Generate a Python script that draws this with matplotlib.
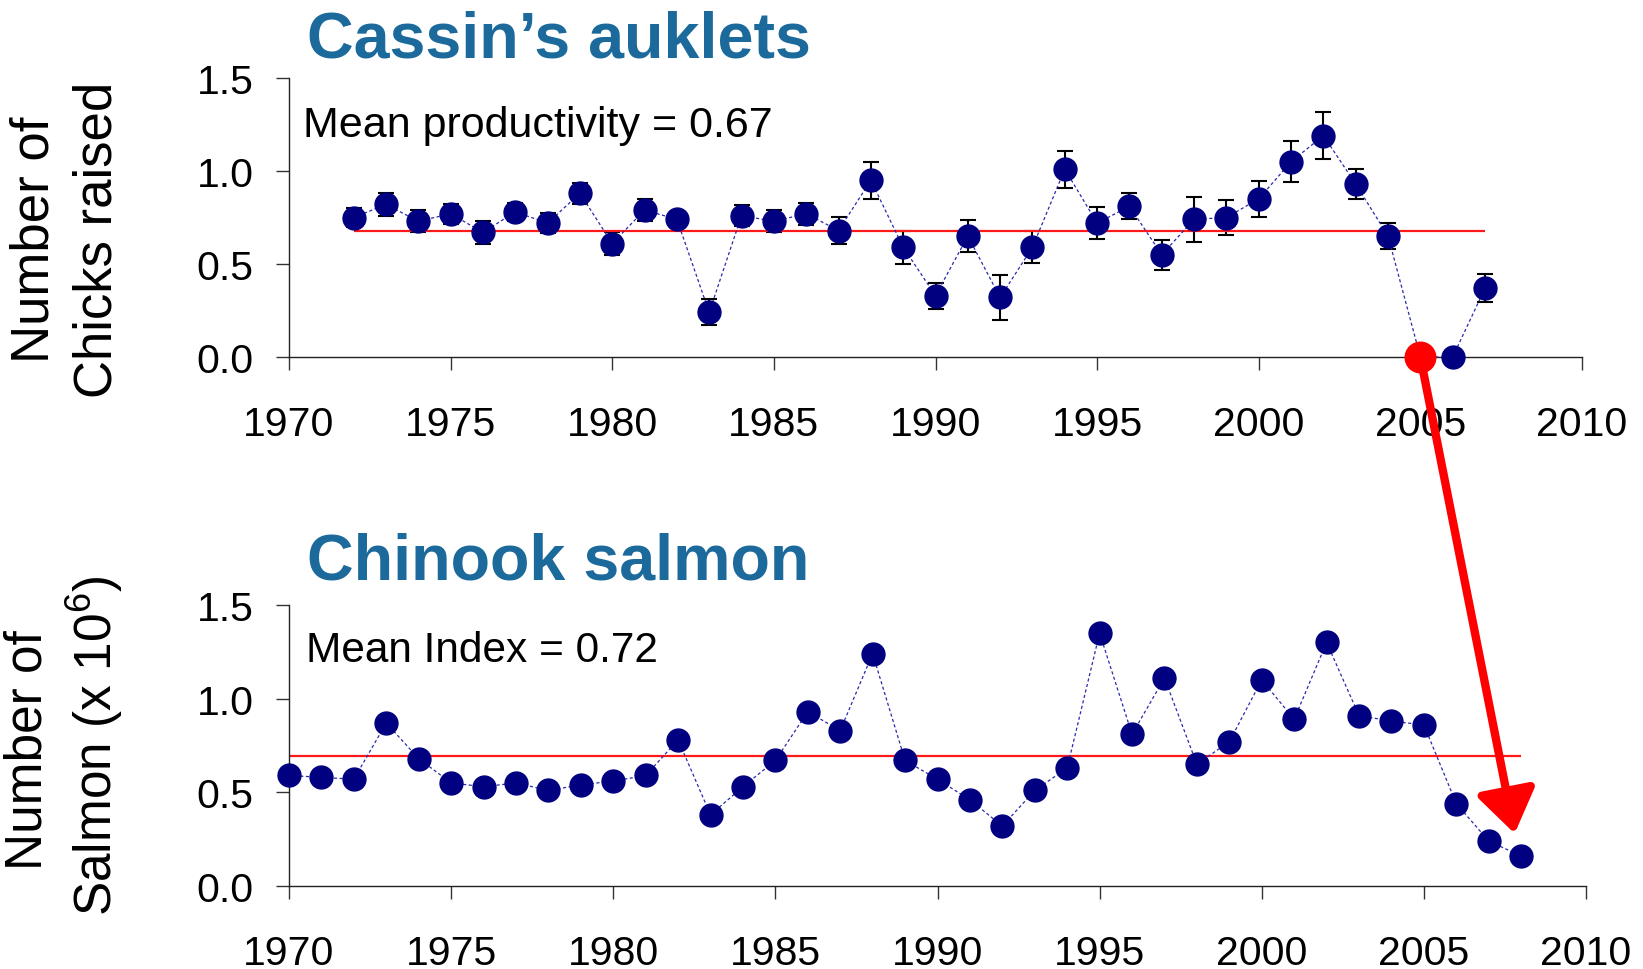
import numpy as np
import matplotlib
matplotlib.use("Agg")
import matplotlib.pyplot as plt
from matplotlib.patches import ConnectionPatch

plt.rcParams['font.family'] = ['Liberation Sans', 'DejaVu Sans']
plt.rcParams['mathtext.default'] = 'regular'

# Cassin's auklet productivity (chicks raised per pair)
auklet_years = np.arange(1972, 2008)
auklet_chicks = [0.75, 0.82, 0.73, 0.77, 0.67, 0.78, 0.72, 0.88, 0.61, 0.79,
                 0.74, 0.24, 0.76, 0.73, 0.77, 0.68, 0.95, 0.59, 0.33, 0.65,
                 0.32, 0.59, 1.01, 0.72, 0.81, 0.55, 0.74, 0.75, 0.85, 1.05,
                 1.19, 0.93, 0.65, 0.00, 0.00, 0.37]
auklet_err = [0.05, 0.06, 0.06, 0.055, 0.06, 0.05, 0.055, 0.055, 0.06, 0.06,
              0.03, 0.07, 0.055, 0.06, 0.06, 0.075, 0.10, 0.09, 0.07, 0.085,
              0.12, 0.085, 0.10, 0.085, 0.07, 0.08, 0.12, 0.095, 0.095, 0.11,
              0.125, 0.08, 0.07, 0.0, 0.0, 0.075]
auklet_mean = 0.68

# Chinook salmon index (x 10^6)
salmon_years = np.arange(1970, 2009)
salmon_index = [0.59, 0.58, 0.57, 0.87, 0.68, 0.55, 0.53, 0.55, 0.51, 0.54,
                0.56, 0.59, 0.78, 0.38, 0.53, 0.67, 0.93, 0.83, 1.24, 0.67,
                0.57, 0.46, 0.32, 0.51, 0.63, 1.35, 0.81, 1.11, 0.65, 0.77,
                1.10, 0.89, 1.30, 0.91, 0.88, 0.86, 0.44, 0.24, 0.16]
salmon_mean = 0.695

highlight_year = 2005
arrow_end = (2007.8, 0.28)

title_color = '#1b6a9b'
navy = '#000080'
W, H = 1643, 970

fig = plt.figure(figsize=(W / 100, H / 100), dpi=100)
ax1 = fig.add_axes([289 / W, 1 - 358 / H, 1293 / W, 279 / H])
ax2 = fig.add_axes([289 / W, 1 - 887 / H, 1297 / W, 281 / H])


def style_axis(ax):
    ax.set_xlim(1970, 2010)
    ax.set_ylim(0, 1.5)
    ax.set_xticks(range(1970, 2011, 5))
    ax.set_yticks([0, 0.5, 1.0, 1.5])
    ax.set_yticklabels(['0.0', '0.5', '1.0', '1.5'])
    for s in ['top', 'right']:
        ax.spines[s].set_visible(False)
    for s in ['left', 'bottom']:
        ax.spines[s].set_linewidth(1.0)
        ax.spines[s].set_color('#222222')
    ax.tick_params(direction='out', length=9.5, width=1.0, color='#333333',
                   labelsize=29.5)
    ax.tick_params(axis='y', pad=16)
    ax.tick_params(axis='x', pad=25)


# top panel
style_axis(ax1)
ax1.errorbar(auklet_years, auklet_chicks, yerr=auklet_err, fmt='none',
             ecolor='black', elinewidth=1.5, capsize=6, capthick=1.5, zorder=2)
ax1.plot(auklet_years, auklet_chicks, linestyle=(0, (2.5, 2)), linewidth=0.9,
         color='#2a2aa8', marker='o', markersize=16.5, markerfacecolor=navy,
         markeredgecolor=navy, zorder=3, clip_on=False)
ax1.hlines(auklet_mean, auklet_years.min(), auklet_years.max(),
           color='#ff1a1a', linewidth=1.6, zorder=2.5)
i05 = list(auklet_years).index(highlight_year)
ax1.plot(highlight_year, auklet_chicks[i05], marker='o', markersize=22,
         color='#ff0000', zorder=6, clip_on=False)
ax1.text(0.011, 0.792, 'Mean productivity = 0.67', transform=ax1.transAxes,
         fontsize=31, va='baseline', ha='left')

# bottom panel
style_axis(ax2)
ax2.plot(salmon_years, salmon_index, linestyle=(0, (2.5, 2)), linewidth=0.9,
         color='#2a2aa8', marker='o', markersize=16.5, markerfacecolor=navy,
         markeredgecolor=navy, zorder=3, clip_on=False)
ax2.hlines(salmon_mean, salmon_years.min(), salmon_years.max(),
           color='#ff1a1a', linewidth=1.6, zorder=2.5)
ax2.text(0.013, 0.80, 'Mean Index = 0.72', transform=ax2.transAxes,
         fontsize=30.5, va='baseline', ha='left')

# titles
fig.text(559 / W, 1 - 57 / H, 'Cassin\u2019s auklets', fontsize=46.5,
         fontweight='bold', color=title_color, ha='center', va='baseline')
fig.text(558 / W, 1 - 580 / H, 'Chinook salmon', fontsize=46.5,
         fontweight='bold', color=title_color, ha='center', va='baseline')

# y labels
fig.text(35 / W, 1 - 240 / H, 'Number of', rotation=90, fontsize=38,
         ha='center', va='center')
fig.text(98 / W, 1 - 240 / H, 'Chicks raised', rotation=90, fontsize=38,
         ha='center', va='center')
fig.text(28 / W, 1 - 750 / H, 'Number of', rotation=90, fontsize=37,
         ha='center', va='center')
fig.text(95 / W, 1 - 746 / H, 'Salmon (x 10$^{6}$)', rotation=90, fontsize=37,
         ha='center', va='center')

# red arrow from the 2005 auklet failure to the salmon collapse
arrow = ConnectionPatch(xyA=(highlight_year, auklet_chicks[i05]), coordsA=ax1.transData,
                        xyB=arrow_end, coordsB=ax2.transData,
                        arrowstyle='-|>,head_length=26,head_width=18',
                        mutation_scale=1, color='#ff0000', linewidth=6,
                        zorder=7)
fig.add_artist(arrow)

fig.savefig('out.png', dpi=100)
